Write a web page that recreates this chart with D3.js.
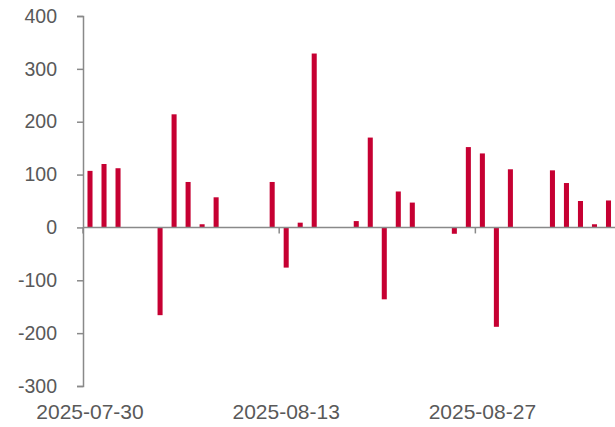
<!DOCTYPE html>
<html>
<head>
<meta charset="utf-8">
<script src="https://cdn.jsdelivr.net/npm/d3@7"></script>
<style>
  body { margin: 0; background: #fff; }
  svg { display: block; font-family: "Liberation Sans", Arial, sans-serif; }
</style>
</head>
<body>
<script>
// daily values (trading days only; weekends/holidays empty)
const dates = [
  "2025-07-30", "2025-07-31", "2025-08-01",
  "2025-08-04", "2025-08-05", "2025-08-06", "2025-08-07", "2025-08-08",
  "2025-08-11", "2025-08-12", "2025-08-13", "2025-08-14", "2025-08-15",
  "2025-08-18", "2025-08-19", "2025-08-20", "2025-08-21", "2025-08-22",
  "2025-08-25", "2025-08-26", "2025-08-27", "2025-08-28", "2025-08-29",
  "2025-09-01", "2025-09-02", "2025-09-03", "2025-09-04", "2025-09-05"
];
const values = [
  107, 120, 112,
  -166, 214, 86, 6, 57,
  0, 86, -76, 9, 329,
  12, 170, -136, 68, 47,
  -12, 152, 140, -188, 110,
  108, 84, 50, 6, 51
];
const xTickLabels = ["2025-07-30", "2025-08-13", "2025-08-27"];
const yTicks = [-300, -200, -100, 0, 100, 200, 300, 400];

const W = 615, H = 427;
const plotLeft = 83, plotRight = 615.5, plotTop = 16, plotBottom = 386;

const svg = d3.select("body").append("svg")
  .attr("width", W).attr("height", H);

// every calendar day gets a slot
const allDays = d3.timeDay.range(new Date(2025, 6, 30), new Date(2025, 8, 6))
  .map(d3.timeFormat("%Y-%m-%d"));

const pad = 0.64;
const x = d3.scaleBand()
  .domain(allDays)
  .range([plotLeft, plotRight])
  .paddingInner(pad)
  .paddingOuter(pad / 2);

const y = d3.scaleLinear()
  .domain([-300, 400])
  .range([plotBottom, plotTop]);

const textColor = "#595959";
const axisColor = "#898989";

// bars
svg.append("g")
  .selectAll("rect")
  .data(dates.map((d, i) => ({ d, v: values[i] })).filter(e => e.v !== 0))
  .join("rect")
  .attr("x", e => x(e.d))
  .attr("width", x.bandwidth())
  .attr("y", e => y(Math.max(0, e.v)))
  .attr("height", e => Math.abs(y(e.v) - y(0)))
  .attr("fill", "#c60032");

// y axis (plain hyphen for negatives, like the source)
const yAxis = svg.append("g")
  .attr("transform", `translate(${plotLeft},0)`)
  .call(d3.axisLeft(y).tickValues(yTicks).tickFormat(d => String(d))
    .tickSize(6).tickPadding(20));
yAxis.select(".domain").attr("stroke", axisColor).attr("stroke-width", 1.5);
yAxis.selectAll(".tick line").attr("stroke", axisColor).attr("stroke-width", 1.5);
yAxis.selectAll(".tick text")
  .attr("fill", textColor)
  .style("font-size", "19.5px");

// zero line
svg.append("line")
  .attr("x1", plotLeft).attr("x2", plotRight)
  .attr("y1", y(0)).attr("y2", y(0))
  .attr("stroke", axisColor).attr("stroke-width", 1.5);

// x tick marks at the start of each labelled day slot
const slotStart = d => x(d) - x.step() * pad / 2;
svg.append("g")
  .selectAll("line")
  .data(xTickLabels)
  .join("line")
  .attr("x1", slotStart).attr("x2", slotStart)
  .attr("y1", y(0)).attr("y2", y(0) + 6)
  .attr("stroke", axisColor).attr("stroke-width", 1.5);

// x labels at the bottom
svg.append("g")
  .selectAll("text")
  .data(xTickLabels)
  .join("text")
  .attr("x", d => x(d) + x.bandwidth() / 2)
  .attr("y", 419)
  .attr("text-anchor", "middle")
  .attr("fill", textColor)
  .style("font-size", "21px")
  .text(d => d);
</script>
</body>
</html>
